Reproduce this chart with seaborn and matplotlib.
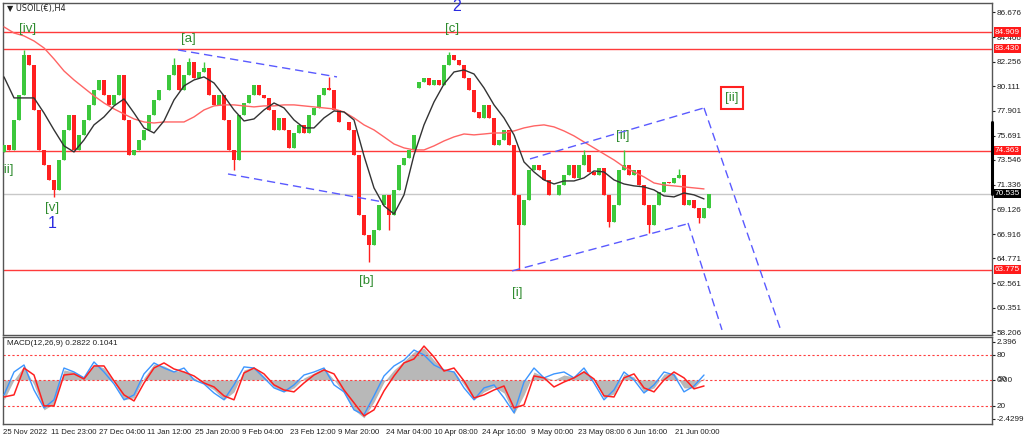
import numpy as np
import pandas as pd
import matplotlib
matplotlib.use("Agg")
import matplotlib.pyplot as plt
import seaborn as sns

sns.set_style("white")
plt.rcParams['font.family'] = ['Liberation Sans', 'DejaVu Sans']

# closing prices, one candle per step (USOIL H4, thinned)
closes = [74.86, 74.42, 77.09, 79.32, 82.88, 81.99, 77.98, 74.42, 73.09, 71.75,
          70.86, 73.53, 76.20, 77.54, 74.42, 75.76, 77.09, 78.43, 79.76, 80.65,
          79.32, 78.43, 79.32, 81.10, 77.09, 73.97, 74.42, 75.31, 76.20, 77.54,
          78.87, 79.76, 79.76, 81.10, 81.99, 79.76, 81.10, 82.25, 80.83, 81.36,
          81.72, 79.32, 78.43, 79.32, 77.09, 74.42, 73.53, 77.54, 78.60, 79.32,
          80.20, 79.32, 79.05, 77.98, 76.20, 77.27, 76.20, 74.60, 75.93, 76.65,
          75.93, 77.54, 78.16, 79.32, 79.94, 79.76, 77.98, 76.91, 76.91, 76.20,
          73.97, 68.63, 66.85, 65.97, 67.30, 69.53, 70.42, 68.63, 70.86, 73.09,
          73.71, 74.42, 75.76, 80.47, 80.83, 80.20, 80.65, 80.20, 81.99, 82.88,
          82.43, 81.99, 80.83, 79.76, 77.80, 77.27, 78.43, 77.27, 74.86, 75.31,
          76.20, 74.86, 70.42, 67.75, 69.97, 72.64, 73.09, 72.64, 71.75, 70.42,
          70.42, 71.30, 72.20, 73.09, 71.93, 73.09, 73.97, 72.46, 72.20, 72.82,
          70.42, 68.01, 69.53, 72.64, 73.09, 72.20, 72.64, 71.30, 69.53, 67.75,
          69.53, 70.68, 71.57, 71.48, 71.93, 72.20, 69.53, 69.97, 69.26, 68.37,
          69.26, 70.54]
first_open = 74.2
gap_idx = [83]
gap_open = [79.9]

# long wicks
high_idx = [4, 34, 37, 40, 65, 89, 116, 124, 135]
high_val = [83.32, 82.61, 82.61, 82.25, 80.92, 83.14, 74.42, 74.42, 72.72]
low_idx = [10, 46, 73, 77, 103, 121, 129, 139]
low_val = [70.24, 72.64, 64.45, 67.30, 63.775, 67.57, 67.03, 67.90]

# moving averages, every second candle
ma_fast = [80.92, 79.05, 79.05, 79.05, 77.71, 76.20, 74.78, 74.24, 75.31, 76.65,
           77.36, 78.34, 78.96, 77.71, 76.38, 75.93, 77.00, 78.87, 80.12, 80.65,
           80.92, 80.38, 79.23, 77.98, 77.00, 77.18, 77.98, 78.60, 78.16, 77.09,
           76.38, 76.38, 77.27, 77.89, 77.80, 77.09, 73.89, 71.04, 69.44, 68.72,
           70.42, 73.97, 76.65, 78.69, 80.29, 81.36, 81.54, 81.18, 79.94, 78.43,
           77.27, 75.76, 73.35, 72.46, 71.75, 71.39, 71.66, 71.66, 71.93, 72.55,
           72.46, 71.75, 71.39, 71.22, 71.13, 70.86, 70.33, 70.24, 70.59, 70.42,
           70.06]
ma_slow = [85.37, 84.83, 84.57, 84.12, 83.50, 82.52, 81.45, 80.65, 79.94, 79.23,
           78.60, 78.07, 77.62, 77.18, 76.91, 76.82, 76.91, 76.91, 76.91, 77.36,
           77.98, 78.34, 78.43, 78.43, 78.34, 78.25, 78.34, 78.34, 78.43, 78.43,
           78.34, 78.25, 78.16, 78.07, 77.80, 77.27, 76.65, 76.20, 75.58, 74.95,
           74.60, 74.42, 74.42, 74.78, 75.22, 75.58, 75.84, 75.76, 75.84, 75.93,
           75.93, 76.11, 76.38, 76.56, 76.65, 76.47, 76.11, 75.67, 75.13, 74.60,
           74.06, 73.53, 72.91, 72.46, 72.02, 71.48, 71.30, 71.22, 71.13, 71.04,
           70.95]

# MACD panel, every second candle
macd_hist = [-1.25, 0, 0.88, -0.31, -1.88, -1.50, 0.63, 0.50, 0.19, 1.00,
             0.75, -0.13, -1.25, -1.13, 0.13, 1.00, 0.88, 0.56, 0.56, 0.13,
             -0.25, -0.63, -1.25, -0.75, 0.63, 0.82, 0.25, -0.44, -0.75, -0.50,
             0.13, 0.44, 0.75, 0, -0.82, -1.88, -2.38, -1.38, -0.13, 0.63,
             1.19, 1.76, 2.01, 1.25, 0.63, 0.56, -0.31, -1.25, -0.75, -0.44,
             -0.82, -2.13, -0.94, 0.50, 0.19, 0, 0.31, 0.19, 0.63, 0,
             -1.13, -0.88, 0.38, 0.19, -0.75, -0.50, 0.38, 0.44, -0.50, -0.50,
             0.13]
macd_main = [-0.94, 0.50, 0.94, -0.63, -1.76, -1.25, 0.75, 0.50, 0.13, 1.13,
             0.50, -0.25, -1.25, -0.94, 0.38, 1.07, 0.75, 0.50, 0.75, 0,
             -0.25, -0.82, -1.25, -0.31, 0.82, 0.75, 0.13, -0.50, -0.75, -0.31,
             0.31, 0.50, 0.75, -0.31, -0.75, -1.88, -2.19, -1.00, 0.25, 0.88,
             1.25, 1.88, 1.57, 0.94, 0.63, 0.50, -0.50, -1.25, -0.50, -0.31,
             -1.13, -2.07, -0.13, 0.75, 0.13, 0.38, 0.50, 0.13, 0.75, -0.19,
             -1.25, -0.63, 0.50, 0, -0.82, -0.31, 0.50, 0.31, -0.75, -0.38,
             0.31]
macd_signal = [-1.07, -0.94, 0.75, 0.31, -1.63, -1.63, 0.31, 0.38, 0.06, 0.88,
               0.88, -0.06, -0.94, -1.32, -0.19, 0.75, 1.07, 0.69, 0.50, 0.25,
               -0.19, -0.44, -1.00, -1.25, 0.44, 0.75, 0.38, -0.31, -0.63, -0.75,
               -0.19, 0.31, 0.63, 0.38, -0.63, -1.44, -2.26, -1.88, -0.69, 0.25,
               1.07, 1.32, 2.13, 1.44, 0.56, 0.75, -0.06, -1.13, -0.94, -0.63,
               -0.38, -1.76, -1.57, 0.25, 0.13, -0.44, -0.13, 0.13, 0.50, 0.06,
               -1.00, -1.07, 0.13, 0.38, -0.50, -0.75, 0, 0.50, 0.13, -0.56,
               -0.38]
macd_levels = [1.58, 0.0, -1.63]

level_prices = [84.909, 83.430, 74.363, 63.775]
current_price = 70.535
price_ticks = [86.676, 84.466, 82.256, 80.111, 77.901, 75.691, 73.546,
               71.336, 69.126, 66.916, 64.771, 62.561, 60.351, 58.206]

date_labels = ['25 Nov 2022', '11 Dec 23:00', '27 Dec 04:00', '11 Jan 12:00',
               '25 Jan 20:00', '9 Feb 04:00', '23 Feb 12:00', '9 Mar 20:00',
               '24 Mar 04:00', '10 Apr 08:00', '24 Apr 16:00', '9 May 00:00',
               '23 May 08:00', '6 Jun 16:00', '21 Jun 00:00']
date_pos = [-0.2, 9.4, 19.0, 28.6, 38.2, 47.6, 57.2, 66.8, 76.4, 86.0,
            95.6, 105.4, 114.8, 124.6, 134.2]

# dashed channel lines (bar, price)
t_x0 = [34.8, 44.8, 101.6, 105.2, 140.0, 136.8]
t_x1 = [66.6, 75.8, 136.6, 140.0, 155.2, 143.6]
t_p0 = [83.32, 72.28, 63.65, 73.62, 78.16, 67.92]
t_p1 = [80.92, 69.79, 67.83, 78.16, 58.58, 58.40]

# wave labels
green_txt = ['[iv]', '[v]', '[a]', '[b]', '[c]', '[i]', '[ii]']
green_x = [4.8, 9.6, 36.8, 72.4, 89.6, 102.6, 123.8]
green_y = [85.19, 69.26, 84.30, 62.76, 85.19, 61.69, 75.67]
blue_txt = ['1', '2']
blue_x = [9.6, 90.6]
blue_y = [67.83, 87.15]

df = pd.DataFrame({'bar': np.arange(len(closes)), 'close': closes})
df['open'] = df['close'].shift(1).fillna(first_open)
df.loc[gap_idx, 'open'] = gap_open
df['high'] = df[['open', 'close']].max(axis=1)
df['low'] = df[['open', 'close']].min(axis=1)
df.loc[high_idx, 'high'] = high_val
df.loc[low_idx, 'low'] = low_val
up = df['close'] >= df['open']
candle_col = np.where(up, '#3cc83c', '#ff2020')

ma_bar = np.arange(0, 2 * len(ma_fast), 2)

fig = plt.figure(figsize=(10.24, 4.41), dpi=100, facecolor='white')
ax = fig.add_axes([3 / 1024, 106.5 / 441, 989 / 1024, 331.5 / 441])
ax2 = fig.add_axes([3 / 1024, 17 / 441, 989 / 1024, 87 / 441])

xlim = (-0.2, 197.6)
small = 5.9

# levels
for p in level_prices:
    ax.axhline(p, color='#ff3b3b', lw=1.0, zorder=1)
ax.axhline(current_price, color='#c8c8c8', lw=1.0, zorder=1)

# candles
ax.vlines(df['bar'], df['low'], df['high'], colors=candle_col, lw=1.0, zorder=2)
ax.bar(df['bar'], df['close'] - df['open'], bottom=df['open'], width=0.7,
       color=candle_col, edgecolor='none', zorder=3)

sns.lineplot(x=ma_bar, y=ma_slow, ax=ax, color='#ff6464', lw=1.0, zorder=4)
sns.lineplot(x=ma_bar, y=ma_fast, ax=ax, color='#333333', lw=1.0, zorder=4)

for x0, x1, p0, p1 in zip(t_x0, t_x1, t_p0, t_p1):
    ax.plot([x0, x1], [p0, p1], color='#5a5aff', lw=1.0, dashes=(6, 3.5), zorder=5)

for t, x, y in zip(green_txt, green_x, green_y):
    ax.text(x, y, t, color='#2e8b2e', fontsize=9.5, ha='center', va='center', zorder=6)
ax.text(1.8, 72.64, '[ii]', color='#2e8b2e', fontsize=9.5, ha='right', va='center',
        clip_on=True)
for t, x, y in zip(blue_txt, blue_x, blue_y):
    ax.text(x, y, t, color='#2a2ae0', fontsize=11.5, ha='center', va='center', zorder=6)
ax.text(145.6, 79.05, '[ii]', color='#2e8b2e', fontsize=9.5, ha='center', va='center',
        bbox=dict(boxstyle='square,pad=0.35', facecolor='white', edgecolor='#ff2020', lw=1.5))

ax.text(0.004, 0.982, '\u25bc USOIL(\u20ac),H4', transform=ax.transAxes, fontsize=small,
        va='center', ha='left', color='#202020', family=['DejaVu Sans'])

ax.set_xlim(*xlim)
ax.set_ylim(57.99, 87.5)
ax.set_xticks([])
ax.yaxis.tick_right()
ax.set_yticks(price_ticks)
ax.set_yticklabels([f'{v:.3f}' for v in price_ticks])
ax.tick_params(axis='y', direction='out', length=2.5, width=0.8, labelsize=small,
               colors='#202020', pad=1)
ax.set_xlabel('')
ax.set_ylabel('')

ytr = ax.get_yaxis_transform()
for p in level_prices:
    ax.text(1.003, p, f'{p:.3f}', transform=ytr, fontsize=small, color='white',
            ha='left', va='center', clip_on=False,
            bbox=dict(boxstyle='square,pad=0.15', facecolor='#ff1a1a', edgecolor='none'))
ax.text(1.003, current_price, f'{current_price:.3f}', transform=ytr, fontsize=small,
        color='white', ha='left', va='center', clip_on=False,
        bbox=dict(boxstyle='square,pad=0.15', facecolor='black', edgecolor='none'))
ax.plot([1.0, 1.0], [76.91, current_price], transform=ytr, color='black', lw=2.2,
        clip_on=False, zorder=7)

# MACD panel
ax2.fill_between(ma_bar, 0, macd_hist, color='#b8b8b8', lw=0, zorder=1)
for lv in macd_levels:
    ax2.axhline(lv, color='#ff4040', lw=0.8, dashes=(2, 2), zorder=2)
sns.lineplot(x=ma_bar, y=macd_main, ax=ax2, color='#3c96ff', lw=1.0, zorder=3)
sns.lineplot(x=ma_bar, y=macd_signal, ax=ax2, color='#ff2020', lw=1.1, zorder=4)
ax2.text(0.004, 0.92, 'MACD(12,26,9) 0.2822 0.1041', transform=ax2.transAxes,
         fontsize=small, va='center', ha='left', color='#202020')

ax2.set_xlim(*xlim)
ax2.set_ylim(-2.77, 2.70)
ax2.yaxis.tick_right()
ax2.set_yticks([2.396, 1.58, 0.0, -1.63, -2.4299])
ax2.set_yticklabels(['2.396', '80', '0.00', '20', '-2.4299'])
ax2.text(1.0055, 0.0, '50', transform=ax2.get_yaxis_transform(), fontsize=small,
         color='#202020', ha='left', va='center', clip_on=False)
ax2.tick_params(axis='y', direction='out', length=2.5, width=0.8, labelsize=small,
                colors='#202020', pad=1)
ax2.set_xticks(date_pos)
ax2.set_xticklabels(date_labels, ha='left')
ax2.tick_params(axis='x', direction='out', length=2.5, width=0.8, labelsize=5.6,
                colors='#202020', pad=1)
ax2.set_xlabel('')
ax2.set_ylabel('')

for a in (ax, ax2):
    for s in a.spines.values():
        s.set_color('#555555')
        s.set_linewidth(1.0)

fig.savefig('out.png', dpi=100, facecolor='white')
